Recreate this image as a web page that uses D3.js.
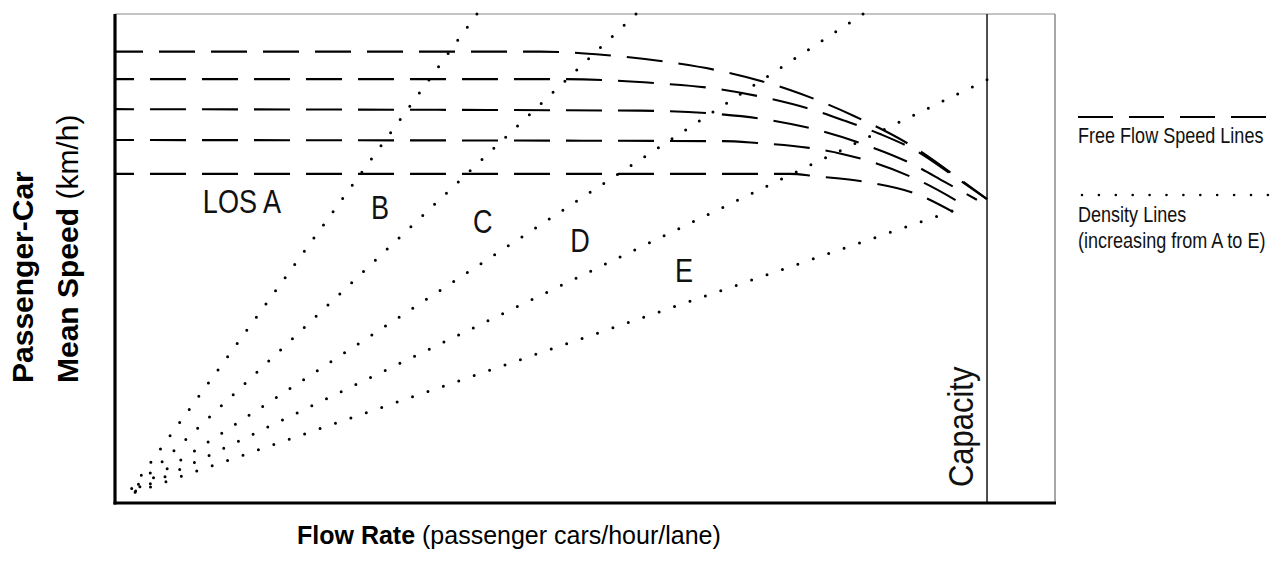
<!DOCTYPE html>
<html>
<head>
<meta charset="utf-8">
<script src="https://cdn.jsdelivr.net/npm/d3@7"></script>
<style>
  body { margin: 0; background: #fff; }
</style>
</head>
<body>
<div id="container"></div>
<script>
let w = 1284;
let h = 568;

// DATA  (flow in pc/h/ln, speed in km/h)
let flowMax = 2600;
let speedMax = 130;
let capacityFlow = 2412;

// speed-flow curves, one per free flow speed (top to bottom)
let ffs1 = [[0,120.0],[1176,120.0],[1355,119.1],[1546,117.0],[1687,114.6],[1867,109.8],[2044,102.9],[2213,94.4],[2332,86.4],[2412,80.8]];
let ffs2 = [[0,112.7],[1231,112.7],[1510,111.5],[1651,110.3],[1792,107.9],[1931,104.5],[2019,101.6],[2116,98.1],[2213,93.8],[2332,86.1],[2412,80.8]];
let ffs3 = [[0,104.7],[1452,104.3],[1657,103.5],[1798,102.0],[1933,99.4],[2075,95.2],[2205,90.1],[2296,85.3],[2384,80.6]];
let ffs4 = [[0,96.5],[1682,96.2],[1776,95.7],[1920,94.4],[2011,92.8],[2102,90.4],[2238,85.1],[2357,78.7]];
let ffs5 = [[0,87.5],[1867,87.5],[1936,86.9],[2080,85.3],[2218,82.1],[2318,77.4]];
let ffsCurves = [ffs1, ffs2, ffs3, ffs4, ffs5];

// density lines (LOS boundaries), start and end point
let densityNames = ["A", "B", "C", "D", "E"];
let densityStart = [[33,2.1],[33,2.1],[33,2.1],[33,2.1],[33,2.1]];
let densityEnd = [[1001,130],[1441,130],[2069,130],[2412,112.5],[2315,77.6]];

// LOS labels, anchored in data coordinates
let losText = ["LOS A", "B", "C", "D", "E"];
let losAt = [[243,77.1],[708,75.5],[990,71.8],[1259,66.7],[1549,58.8]];

// no condensed face is installed, so squeeze Liberation Sans instead
let plain = "'Liberation Sans', Arial, Helvetica, sans-serif";
let squeeze = 0.82;

// SVG
let viz = d3.select("#container").append("svg")
    .attr("width", w)
    .attr("height", h)
    .style("background-color", "white");

let xScale = d3.scaleLinear().domain([0, flowMax]).range([115, 1055]);
let yScale = d3.scaleLinear().domain([0, speedMax]).range([503, 14]);

// frame
viz.append("line")
    .attr("x1", xScale(0)).attr("x2", xScale(flowMax))
    .attr("y1", yScale(speedMax)).attr("y2", yScale(speedMax))
    .attr("stroke", "#8a8a8a").attr("stroke-width", 1.2);
viz.append("line")
    .attr("x1", xScale(flowMax)).attr("x2", xScale(flowMax))
    .attr("y1", yScale(speedMax)).attr("y2", yScale(0))
    .attr("stroke", "#8a8a8a").attr("stroke-width", 1.5);

// capacity line
viz.append("line")
    .attr("x1", xScale(capacityFlow)).attr("x2", xScale(capacityFlow))
    .attr("y1", yScale(speedMax)).attr("y2", yScale(0))
    .attr("stroke", "#222").attr("stroke-width", 1.6);

// density lines, drawn from the far end so a dot sits on the border
viz.selectAll(".density").data(densityNames).enter()
    .append("line")
    .attr("class", "density")
    .attr("x1", (d, i) => xScale(densityEnd[i][0]))
    .attr("y1", (d, i) => yScale(densityEnd[i][1]))
    .attr("x2", (d, i) => xScale(densityStart[i][0]))
    .attr("y2", (d, i) => yScale(densityStart[i][1]))
    .attr("stroke", "black")
    .attr("stroke-width", 3)
    .attr("stroke-linecap", "round")
    .attr("stroke-dasharray", "0 16.3");

// free flow speed curves
let lineMaker = d3.line()
    .x(d => xScale(d[0]))
    .y(d => yScale(d[1]))
    .curve(d3.curveMonotoneX);

viz.selectAll(".ffs").data(ffsCurves).enter()
    .append("path")
    .attr("class", "ffs")
    .attr("d", lineMaker)
    .attr("fill", "none")
    .attr("stroke", "black")
    .attr("stroke-width", 2.1)
    .attr("stroke-dasharray", "36 16")
    .attr("stroke-dashoffset", (d, i) => i == 0 ? 8 : 17);

// axes (heavy left and bottom)
viz.append("line")
    .attr("x1", xScale(0)).attr("x2", xScale(0))
    .attr("y1", yScale(speedMax)).attr("y2", yScale(0) + 1.5)
    .attr("stroke", "black").attr("stroke-width", 3.2);
viz.append("line")
    .attr("x1", xScale(0) - 1.5).attr("x2", xScale(flowMax) + 1)
    .attr("y1", yScale(0)).attr("y2", yScale(0))
    .attr("stroke", "black").attr("stroke-width", 3.2);

// LOS labels
viz.selectAll(".los").data(losText).enter()
    .append("text")
    .attr("class", "los")
    .attr("transform", (d, i) => `translate(${xScale(losAt[i][0])},${yScale(losAt[i][1])}) scale(${squeeze},1)`)
    .attr("font-family", plain)
    .attr("font-size", 33)
    .attr("fill", "#111")
    .text(d => d);

// capacity label
viz.append("text")
    .attr("transform", "translate(973,487) rotate(-90) scale(0.86,1)")
    .attr("font-family", plain)
    .attr("font-size", 36)
    .attr("fill", "#111")
    .text("Capacity");

// y title
let yTitle = viz.append("g").attr("transform", "rotate(-90)");
yTitle.append("text")
    .attr("x", -383).attr("y", 33)
    .attr("font-family", plain)
    .attr("font-weight", "bold")
    .attr("font-size", 30)
    .text("Passenger-Car");
let yt2 = yTitle.append("text")
    .attr("x", -383).attr("y", 78)
    .attr("font-family", plain)
    .attr("font-size", 30);
yt2.append("tspan").attr("font-weight", "bold").text("Mean Speed ");
yt2.append("tspan").text("(km/h)");

// x title
let xt = viz.append("text")
    .attr("x", 297).attr("y", 544)
    .attr("font-family", plain)
    .attr("font-size", 25);
xt.append("tspan").attr("font-weight", "bold").text("Flow Rate ");
xt.append("tspan").text("(passenger cars/hour/lane)");

// legend
viz.append("line")
    .attr("x1", 1078).attr("x2", 1266)
    .attr("y1", 117).attr("y2", 117)
    .attr("stroke", "black").attr("stroke-width", 2)
    .attr("stroke-dasharray", "35 16");
viz.append("line")
    .attr("x1", 1082).attr("x2", 1268)
    .attr("y1", 195).attr("y2", 195)
    .attr("stroke", "black").attr("stroke-width", 2.6)
    .attr("stroke-linecap", "round")
    .attr("stroke-dasharray", "0 16.9");

let legendText = [["Free Flow Speed Lines", 143], ["Density Lines", 222], ["(increasing from A to E)", 248]];
viz.selectAll(".legtext").data(legendText).enter()
    .append("text")
    .attr("class", "legtext")
    .attr("transform", d => `translate(1078,${d[1]}) scale(${squeeze},1)`)
    .attr("font-family", plain)
    .attr("font-size", 22)
    .attr("fill", "#111")
    .text(d => d[0]);
</script>
</body>
</html>
